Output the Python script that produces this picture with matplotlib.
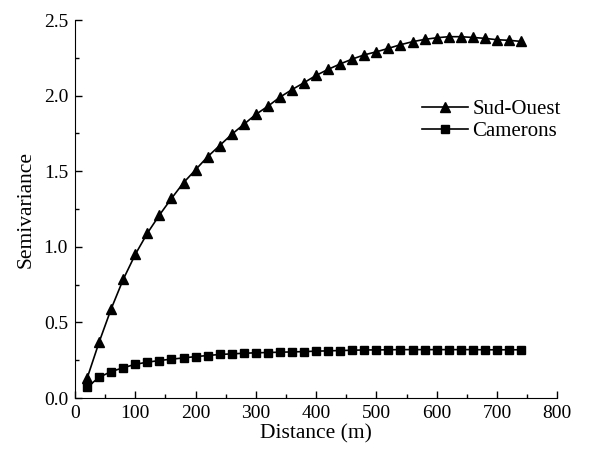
import matplotlib.pyplot as plt
from matplotlib.ticker import MultipleLocator

plt.rcParams['font.family'] = ['Liberation Serif', 'DejaVu Serif']

distance = list(range(20, 741, 20))
sud_ouest = [0.13, 0.37, 0.59, 0.785, 0.95, 1.09, 1.21, 1.32, 1.424, 1.51,
             1.596, 1.67, 1.744, 1.81, 1.876, 1.93, 1.99, 2.04, 2.086, 2.134,
             2.174, 2.21, 2.242, 2.27, 2.29, 2.313, 2.337, 2.357, 2.372, 2.383,
             2.39, 2.39, 2.385, 2.379, 2.37, 2.366, 2.359]
camerons = [0.071, 0.137, 0.175, 0.20, 0.223, 0.237, 0.248, 0.257, 0.265, 0.274,
            0.281, 0.288, 0.292, 0.296, 0.299, 0.301, 0.303, 0.305, 0.307, 0.31,
            0.312, 0.314, 0.316, 0.318, 0.318, 0.319, 0.32, 0.32, 0.32, 0.32,
            0.32, 0.32, 0.32, 0.319, 0.319, 0.319, 0.319]

fig = plt.figure(figsize=(6.15, 4.51), dpi=100)
ax = fig.add_axes([0.122, 0.1175, 0.784, 0.838])

ax.plot(distance, sud_ouest, color='black', marker='^', markersize=7.5, linewidth=1.2, label='Sud-Ouest')
ax.plot(distance, camerons, color='black', marker='s', markersize=6, linewidth=1.2, label='Camerons')

ax.set_xlim(0, 800)
ax.set_ylim(0, 2.5)
ax.xaxis.set_major_locator(MultipleLocator(100))
ax.xaxis.set_minor_locator(MultipleLocator(50))
ax.yaxis.set_major_locator(MultipleLocator(0.5))
ax.yaxis.set_minor_locator(MultipleLocator(0.25))
ax.yaxis.set_major_formatter(plt.FormatStrFormatter('%.1f'))
ax.tick_params(which='both', direction='in', labelsize=14, width=1, pad=5)
ax.tick_params(which='major', length=5)
ax.tick_params(which='minor', length=3)

ax.spines['top'].set_visible(False)
ax.spines['right'].set_visible(False)

ax.set_xlabel('Distance (m)', fontsize=15.5, labelpad=2)
ax.set_ylabel('Semivariance', fontsize=15.5, labelpad=6)

ax.legend(frameon=False, fontsize=15, loc='upper left', bbox_to_anchor=(0.72, 0.79),
          borderaxespad=0, borderpad=0, handlelength=2.2, handletextpad=0.2,
          labelspacing=0.12)

fig.savefig('out.png', dpi=100)
plt.close()
